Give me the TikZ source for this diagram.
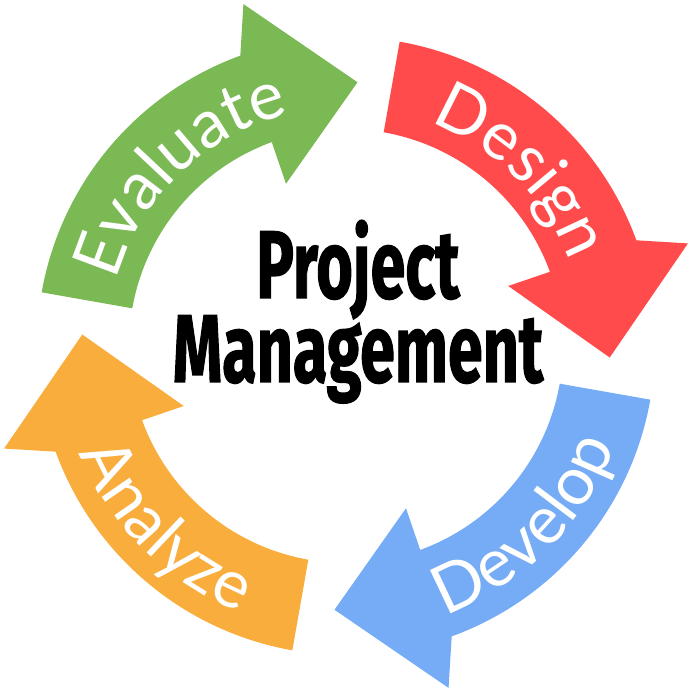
\documentclass[tikz,border=0pt]{standalone}
\usepackage{fontspec}
\usetikzlibrary{decorations.text}
\newfontfamily\labelfont{Lato}
\newfontfamily\titlefont{Fira Sans}[BoldFeatures={FakeBold=1.5}]
\definecolor{cgreen}{RGB}{122,185,83}
\definecolor{cred}{RGB}{255,75,75}
\definecolor{cblue}{RGB}{118,172,246}
\definecolor{corange}{RGB}{248,173,60}
\newcommand\cyclearrow[2]{%
  \fill[#2] ({#1}:309) arc[start angle={#1}, end angle={#1-60}, radius=309pt]
    -- ({#1-63.3}:357) -- ({#1-82.5}:264) -- ({#1-59.7}:173) -- ({#1-60}:217)
    arc[start angle={#1-60}, end angle={#1}, radius=217pt] -- cycle;}
\tikzset{
  arclabel/.style={decorate, decoration={text along path, text align=center,
    text={|\labelfont\fontsize{67}{67}\selectfont\color{white}|#1}}}
}
\begin{document}
\begin{tikzpicture}[x=1pt,y=1pt]
\useasboundingbox (-346,-346) rectangle (346,346);
\cyclearrow{170}{cgreen}
\cyclearrow{80}{cred}
\cyclearrow{-10}{cblue}
\cyclearrow{260}{corange}
% labels: clockwise (tops outward)
\path[arclabel=Evaluate] (184:239) arc[start angle=184, end angle=84, radius=239pt];
\path[arclabel=Design] (95:239) arc[start angle=95, end angle=-5, radius=239pt];
% counter-clockwise (tops inward)
\path[arclabel=Develop] (-95:287) arc[start angle=-95, end angle=5, radius=287pt];
\path[arclabel=Analyze] (175:287) arc[start angle=175, end angle=275, radius=287pt];
\node[anchor=base, inner sep=0pt] (p1) at (12,48)
  {\scalebox{0.655}[1]{\titlefont\bfseries\fontsize{96}{96}\selectfont Project}};
\node[anchor=base, inner sep=0pt] (p2) at (12,-36)
  {\scalebox{0.655}[1]{\titlefont\bfseries\fontsize{96}{96}\selectfont Management}};
\end{tikzpicture}
\end{document}
